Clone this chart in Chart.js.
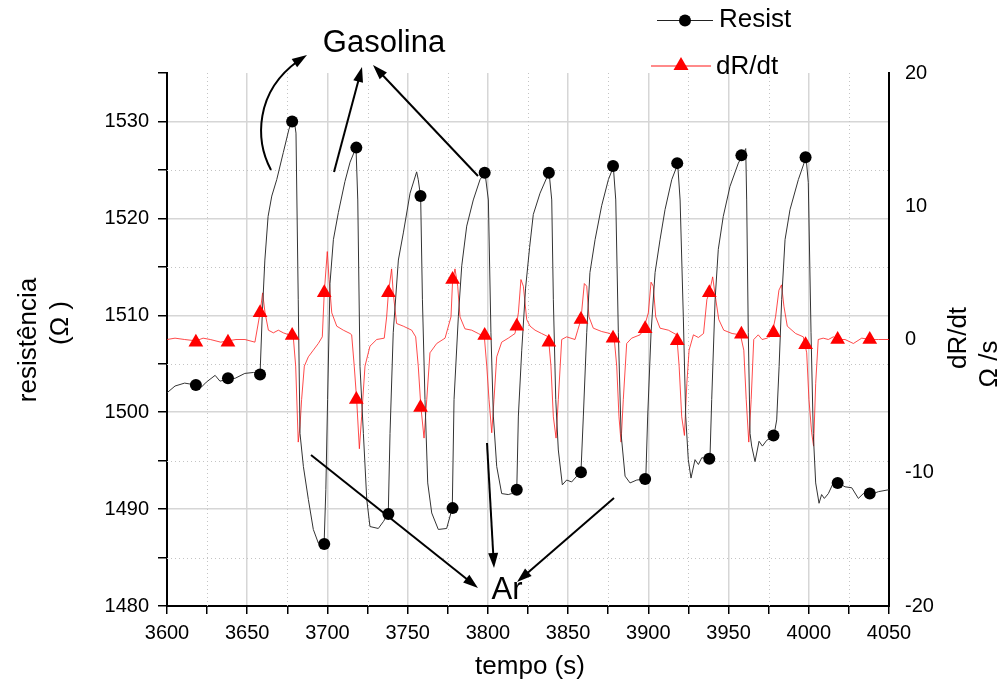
<!DOCTYPE html>
<html>
<head>
<meta charset="utf-8">
<script src="https://cdn.jsdelivr.net/npm/chart.js"></script>
<style>
  html, body { margin: 0; padding: 0; background: #fff; }
  canvas { display: block; }
</style>
</head>
<body>
<canvas id="chart" width="1001" height="689"></canvas>
<script>
// resistance trace (time s, ohm)
const resistT = [3600, 3605, 3611, 3618, 3621.5, 3624.5, 3630, 3633, 3637.5, 3642.5, 3648.5, 3654, 3658,
  3659.4, 3661, 3663, 3665.3, 3668.4, 3672.5, 3676, 3678, 3679.3, 3680.4, 3681.8, 3682.9, 3685, 3688.1, 3691.2, 3694.3, 3697.9,
  3699, 3700.1, 3701.6, 3703.7, 3706.8, 3710.9, 3714.1, 3717.8, 3718.9, 3720.3, 3722.4, 3724.5, 3726.5, 3731.7, 3734.8, 3737.9,
  3739, 3741, 3744.2, 3747.3, 3751.5, 3755.6, 3756.6, 3758.1, 3759.2, 3760.8, 3762.5, 3765, 3769.1, 3774.3, 3777.8,
  3778.9, 3781.6, 3783.7, 3786.8, 3790.9, 3795.1, 3798.2, 3800.3, 3801.9, 3803.4, 3805.5, 3808.6, 3812.7, 3814.8, 3818,
  3819, 3821.1, 3823.5, 3826, 3828.3, 3832.5, 3836.7, 3838.1, 3839.8, 3840.8, 3842.3, 3843.9, 3846.4, 3849.1, 3852.2, 3855.4, 3858,
  3859.5, 3861.6, 3863.6, 3866.8, 3870.9, 3875.1, 3878.2, 3879.7, 3881.3, 3883, 3885.5, 3888.6, 3892.8, 3898.4,
  3899.6, 3901.7, 3904.2, 3907.3, 3910.4, 3914.6, 3918.3, 3919.8, 3921.8, 3923.3, 3924.9, 3926.6, 3929.1, 3931.2, 3933.3, 3938.4,
  3939.5, 3941.6, 3943.6, 3946.7, 3950.9, 3956.1, 3958.4, 3960.7, 3961.3, 3962.3, 3963.4, 3964.4, 3966.5, 3969, 3971.1, 3973.8, 3975.9, 3978.2,
  3980, 3981.5, 3983.1, 3985.2, 3988.3, 3993.5, 3998.3, 3999.7, 4001.4, 4002.8, 4004.3, 4006.4, 4008, 4009.7, 4012.2, 4015.3, 4018.4,
  4022.6, 4026.8, 4030.9, 4034, 4038.6, 4043.4, 4050];
const resistR = [1502.0, 1502.7, 1503.0, 1502.8, 1502.6, 1503.1, 1503.8, 1503.2, 1503.4, 1503.5, 1504.0, 1504.1, 1503.9,
  1510.2, 1515.7, 1520.2, 1522.3, 1524.0, 1526.8, 1529.2, 1530.0, 1530.1, 1528.8, 1511.6, 1497.8, 1494.4, 1491.0, 1487.9, 1486.5, 1486.3,
  1492.0, 1501.3, 1513.3, 1517.8, 1520.6, 1523.8, 1525.8, 1527.3, 1521.9, 1504.7, 1497.8, 1491.0, 1488.2, 1488.0, 1488.7, 1489.5,
  1497.8, 1508.2, 1515.7, 1518.5, 1522.6, 1524.8, 1524.0, 1522.2, 1511.6, 1501.3, 1492.7, 1489.6, 1487.9, 1488.0, 1490.1,
  1501.3, 1509.9, 1515.1, 1519.2, 1521.9, 1524.0, 1524.7, 1521.9, 1508.2, 1499.6, 1494.4, 1491.6, 1491.5, 1491.6, 1492.0,
  1499.6, 1506.4, 1512.8, 1517.0, 1520.4, 1522.6, 1524.2, 1524.8, 1521.9, 1511.6, 1501.3, 1496.1, 1492.5, 1493.0, 1492.8, 1493.4, 1493.8,
  1499.6, 1508.2, 1514.4, 1517.8, 1521.3, 1524.0, 1525.3, 1521.9, 1508.2, 1497.8, 1493.4, 1492.7, 1493.0, 1493.1,
  1499.6, 1508.2, 1514.4, 1517.8, 1520.9, 1524.0, 1525.6, 1521.9, 1509.9, 1499.6, 1495.1, 1493.2, 1495.1, 1494.6, 1495.3, 1495.2,
  1501.3, 1511.6, 1516.8, 1520.2, 1523.3, 1525.7, 1526.4, 1527.2, 1521.9, 1508.2, 1497.8, 1496.5, 1494.9, 1497.0, 1496.5, 1497.1, 1497.3, 1497.5,
  1499.2, 1504.7, 1511.6, 1517.8, 1520.9, 1524.0, 1526.3, 1523.7, 1508.2, 1497.8, 1492.7, 1490.6, 1491.5, 1491.1, 1491.6, 1492.7, 1492.7,
  1492.3, 1492.2, 1491.1, 1491.6, 1491.5, 1491.8, 1492.0];

// derivative trace (time s, ohm/s)
const dRT = [3600, 3605, 3611, 3618, 3622.5, 3627, 3633.5, 3638, 3643, 3648.6, 3654.8, 3658,
  3659.6, 3661.1, 3663.2, 3666.3, 3669.4, 3672.5, 3676, 3678.7, 3680.2, 3681.8, 3682.9, 3683.9, 3685.6, 3688.1, 3691.2, 3694.3, 3696.8,
  3698, 3699.9, 3701, 3702.7, 3705.8, 3709.9, 3714.1, 3715.1, 3716.7, 3718.2, 3719.9, 3721.3, 3723.4, 3726.5, 3730.7, 3735.4,
  3736.9, 3738, 3740, 3741, 3743.1, 3747.3, 3752.5, 3755, 3756.6, 3758.2, 3760.2, 3761.9, 3763.9, 3768.1, 3773.3,
  3777, 3778, 3779.5, 3781.2, 3782.6, 3785.7, 3789.9, 3794, 3797.8, 3799.3, 3800.7, 3802.4, 3803.8, 3805.5, 3808.6, 3812.7, 3816.9,
  3819, 3820.6, 3822.1, 3824.2, 3826.3, 3829.4, 3833.5, 3837.7, 3839.3, 3840.8, 3842.5, 3843.9, 3846, 3849.1, 3854.3, 3856,
  3858, 3860.1, 3861.6, 3863, 3865.7, 3870.9, 3876.1, 3878.8, 3880.3, 3881.7, 3883, 3884.4, 3886.5, 3889.6, 3894.8, 3896.9,
  3900, 3901.7, 3903.1, 3904.6, 3907.3, 3912.5, 3917.7, 3919.2, 3920.8, 3922.5, 3924, 3925.4, 3928.1, 3931.2, 3934.4, 3936.5,
  3938, 3940.1, 3941.8, 3943.9, 3947, 3952.2, 3957.4, 3959.5, 3961, 3962.6, 3964.1, 3965.7, 3968.5, 3970.9, 3974.1, 3977.2,
  3979.3, 3981.4, 3983, 3984.5, 3986.6, 3991.8, 3996.6, 3998.7, 4000.1, 4001.8, 4003, 4004.3, 4005.9, 4009, 4012.2, 4015.3,
  4018.4, 4022.6, 4027.8, 4033, 4038.6, 4043.4, 4050];
const dRV = [0.0, 0.1, 0.0, -0.1, 0.1, 0.0, -0.2, -0.1, 0.0, 0.0, -0.2, 2.0,
  3.5, 2.0, 0.7, 0.5, 0.7, 0.5, 0.35, 0.2, -2.0, -7.7, -6.5, -4.5, -2.0, -1.3, -0.8, -0.3, 0.2,
  3.5, 6.6, 4.5, 2.0, 1.0, 0.7, 0.45, 0.35, -2.0, -4.5, -8.2, -5.8, -2.0, -0.5, 0.0, 0.1,
  1.7, 3.5, 5.3, 3.5, 1.2, 1.0, 0.7, 0.2, -2.0, -5.0, -7.4, -4.5, -1.0, -0.3, 0.1,
  1.7, 4.4, 5.3, 4.0, 1.7, 0.8, 0.7, 0.45, 0.2, -2.0, -4.5, -7.0, -4.5, -1.3, -0.2, 0.1, 0.45,
  2.0, 4.5, 4.0, 1.5, 1.0, 0.7, 0.45, 0.2, -2.0, -5.8, -7.4, -4.5, 0.0, 0.2, 0.0, 0.7,
  1.5, 4.2, 4.0, 1.7, 0.85, 0.6, 0.45, 0.0, -2.0, -5.8, -7.7, -4.5, -0.3, 0.1, 0.35, 0.7,
  2.0, 4.3, 4.0, 1.7, 0.85, 0.7, 0.35, -2.0, -5.8, -7.2, -3.3, -0.8, 0.35, 0.15, 0.45, 3.0,
  3.5, 4.7, 3.2, 1.5, 0.7, 0.45, 0.35, -0.8, -4.5, -7.7, -4.5, 0.0, 0.35, 0.0, 0.1, 0.45,
  1.7, 3.7, 4.1, 2.5, 1.0, 0.45, 0.2, -1.0, -4.5, -7.0, -8.0, -3.3, 0.0, 0.1, 0.0, 0.2,
  0.0, 0.0, -0.3, 0.1, 0.0, 0.0, 0.0];

// symbols drawn every 20 s
const markT = [3618, 3638, 3658, 3678, 3698, 3718, 3738, 3758, 3778, 3798, 3818,
  3838, 3858, 3878, 3898, 3918, 3938, 3958, 3978, 3998, 4018, 4038];
const resistMarks = [1502.8, 1503.5, 1503.9, 1530.0, 1486.4, 1527.3, 1489.5, 1522.3, 1490.1, 1524.7, 1492.0,
  1524.7, 1493.8, 1525.4, 1493.1, 1525.7, 1495.2, 1526.5, 1497.6, 1526.3, 1492.7, 1491.6];
const dRMarks = [-0.2, -0.2, 2.0, 0.3, 3.5, -4.5, 3.5, -5.1, 4.5, 0.3, 1.0,
  -0.2, 1.5, 0.1, 0.8, -0.1, 3.5, 0.4, 0.5, -0.4, 0.0, 0.0];

const xTicks = { min: 3600, max: 4050, major: 50, minor: 25 };
const yTicks = { min: 1480, max: 1535, major: 10, minor: 5 };
const y2Ticks = { min: -20, max: 20, step: 10 };

const FONT = '"Liberation Sans", Arial, sans-serif';
const pts = (xs, ys) => xs.map((t, i) => ({ x: t, y: ys[i] }));
const isMajor = (v, step) => Math.abs(v / step - Math.round(v / step)) < 1e-6;

function arrowHead(ctx, x1, y1, x2, y2) {
  const ang = Math.atan2(y2 - y1, x2 - x1);
  const len = 15, w = 5;
  ctx.beginPath();
  ctx.moveTo(x2, y2);
  ctx.lineTo(x2 - len * Math.cos(ang) + w * Math.sin(ang), y2 - len * Math.sin(ang) - w * Math.cos(ang));
  ctx.lineTo(x2 - len * Math.cos(ang) - w * Math.sin(ang), y2 - len * Math.sin(ang) + w * Math.cos(ang));
  ctx.closePath();
  ctx.fill();
}
function arrow(ctx, x1, y1, x2, y2) {
  const ang = Math.atan2(y2 - y1, x2 - x1);
  ctx.beginPath();
  ctx.moveTo(x1, y1);
  ctx.lineTo(x2 - 10 * Math.cos(ang), y2 - 10 * Math.sin(ang));
  ctx.stroke();
  arrowHead(ctx, x1, y1, x2, y2);
}

const decor = {
  id: 'decor',
  beforeDatasetsDraw(chart) {
    const { ctx, chartArea: a, scales } = chart;
    ctx.save();
    ctx.strokeStyle = '#c4c4c4';
    ctx.lineWidth = 1;
    ctx.setLineDash([1, 3]);
    for (let v = xTicks.min + xTicks.minor; v < xTicks.max; v += xTicks.major) {
      const px = Math.round(scales.x.getPixelForValue(v)) + 0.5;
      ctx.beginPath(); ctx.moveTo(px, a.top); ctx.lineTo(px, a.bottom); ctx.stroke();
    }
    for (let v = yTicks.min + yTicks.minor; v < yTicks.max; v += yTicks.major) {
      const py = Math.round(scales.y.getPixelForValue(v)) + 0.5;
      ctx.beginPath(); ctx.moveTo(a.left, py); ctx.lineTo(a.right, py); ctx.stroke();
    }
    ctx.restore();
  },
  afterDraw(chart) {
    const ctx = chart.ctx;
    ctx.save();
    ctx.fillStyle = '#000';
    ctx.textBaseline = 'middle';
    ctx.textAlign = 'center';
    ctx.font = '26px ' + FONT;

    // axis titles
    ctx.fillText('tempo (s)', 530, 667);
    const vtext = (txt, x, y) => {
      ctx.save(); ctx.translate(x, y); ctx.rotate(-Math.PI / 2); ctx.fillText(txt, 0, 0); ctx.restore();
    };
    vtext('resistência', 29, 340);
    vtext('(Ω )', 61, 323);
    vtext('dR/dt', 959, 338);
    vtext('Ω /s', 990, 364);

    // legend
    ctx.textAlign = 'left';
    ctx.strokeStyle = '#222'; ctx.lineWidth = 1;
    ctx.beginPath(); ctx.moveTo(657, 20.5); ctx.lineTo(713, 20.5); ctx.stroke();
    ctx.beginPath(); ctx.arc(685, 20.5, 6, 0, Math.PI * 2); ctx.fill();
    ctx.fillText('Resist', 719, 20);
    ctx.strokeStyle = '#ff8a8a'; ctx.lineWidth = 2;
    ctx.beginPath(); ctx.moveTo(651, 66); ctx.lineTo(711, 66); ctx.stroke();
    ctx.fillStyle = '#ff0000';
    ctx.beginPath(); ctx.moveTo(681, 57); ctx.lineTo(688.5, 70); ctx.lineTo(673.5, 70); ctx.closePath(); ctx.fill();
    ctx.fillStyle = '#000';
    ctx.fillText('dR/dt', 716, 67);

    // annotations
    ctx.textAlign = 'center';
    ctx.font = '31px ' + FONT;
    ctx.fillText('Gasolina', 384, 43);
    ctx.fillText('Ar', 507, 590);
    ctx.strokeStyle = '#000'; ctx.lineWidth = 2;
    ctx.beginPath();
    ctx.moveTo(271, 170);
    ctx.bezierCurveTo(255, 140, 255, 92, 298, 61);
    ctx.stroke();
    arrowHead(ctx, 290, 66, 307, 55);
    arrow(ctx, 334, 172, 362, 67);
    arrow(ctx, 478, 176, 373, 65);
    arrow(ctx, 311, 455, 478, 588);
    arrow(ctx, 487, 443, 494, 568);
    arrow(ctx, 614, 498, 517, 582);
    ctx.restore();
  }
};

new Chart(document.getElementById('chart'), {
  type: 'line',
  data: {
    datasets: [
      { label: 'dR/dt', data: pts(dRT, dRV), yAxisID: 'y2', borderColor: 'rgba(255,30,30,0.8)', borderWidth: 1,
        pointRadius: 0, tension: 0, order: 4 },
      { label: 'Resist', data: pts(resistT, resistR), yAxisID: 'y', borderColor: '#333333', borderWidth: 1,
        pointRadius: 0, tension: 0, order: 3 },
      { label: 'dR/dt markers', data: pts(markT, dRMarks), yAxisID: 'y2', showLine: false,
        pointStyle: 'triangle', pointRadius: 8.5, backgroundColor: '#ff0000', borderColor: '#ff0000', borderWidth: 0, order: 2 },
      { label: 'Resist markers', data: pts(markT, resistMarks), yAxisID: 'y', showLine: false,
        pointStyle: 'circle', pointRadius: 6, backgroundColor: '#000', borderColor: '#000', borderWidth: 0, order: 1 }
    ]
  },
  options: {
    responsive: false,
    animation: false,
    devicePixelRatio: 1,
    layout: { padding: { top: 73, left: 0, right: 0, bottom: 0 } },
    plugins: { legend: { display: false }, tooltip: { enabled: false } },
    scales: {
      x: {
        type: 'linear', min: xTicks.min, max: xTicks.max,
        afterFit: s => { s.height = 83; },
        ticks: {
          stepSize: xTicks.minor, autoSkip: false, maxRotation: 0, padding: 7, color: '#000',
          font: { family: FONT, size: 20 },
          callback: v => isMajor(v, xTicks.major) ? String(v) : ''
        },
        grid: {
          color: c => (c.tick && isMajor(c.tick.value, xTicks.major)) ? '#d6d6d6' : 'rgba(0,0,0,0)',
          lineWidth: 1.5, tickColor: '#000', tickLength: 8, tickWidth: 1.5
        },
        border: { color: '#000', width: 2 }
      },
      y: {
        type: 'linear', position: 'left', min: yTicks.min, max: yTicks.max,
        afterFit: s => { s.width = 167; },
        ticks: {
          stepSize: yTicks.minor, autoSkip: false, padding: 9, color: '#000',
          font: { family: FONT, size: 20 },
          callback: v => isMajor(v, yTicks.major) ? String(v) : ''
        },
        grid: {
          color: c => (c.tick && isMajor(c.tick.value, yTicks.major) && c.tick.value > yTicks.min) ? '#d6d6d6' : 'rgba(0,0,0,0)',
          lineWidth: 1.5, tickColor: '#000', tickLength: 9, tickWidth: 1.5
        },
        border: { color: '#000', width: 2 }
      },
      y2: {
        type: 'linear', position: 'right', min: y2Ticks.min, max: y2Ticks.max,
        afterFit: s => { s.width = 112; },
        ticks: { stepSize: y2Ticks.step, padding: 16, color: '#000', font: { family: FONT, size: 20 } },
        grid: { display: false, drawTicks: false },
        border: { color: '#000', width: 2 }
      }
    }
  },
  plugins: [decor]
});
</script>
</body>
</html>
